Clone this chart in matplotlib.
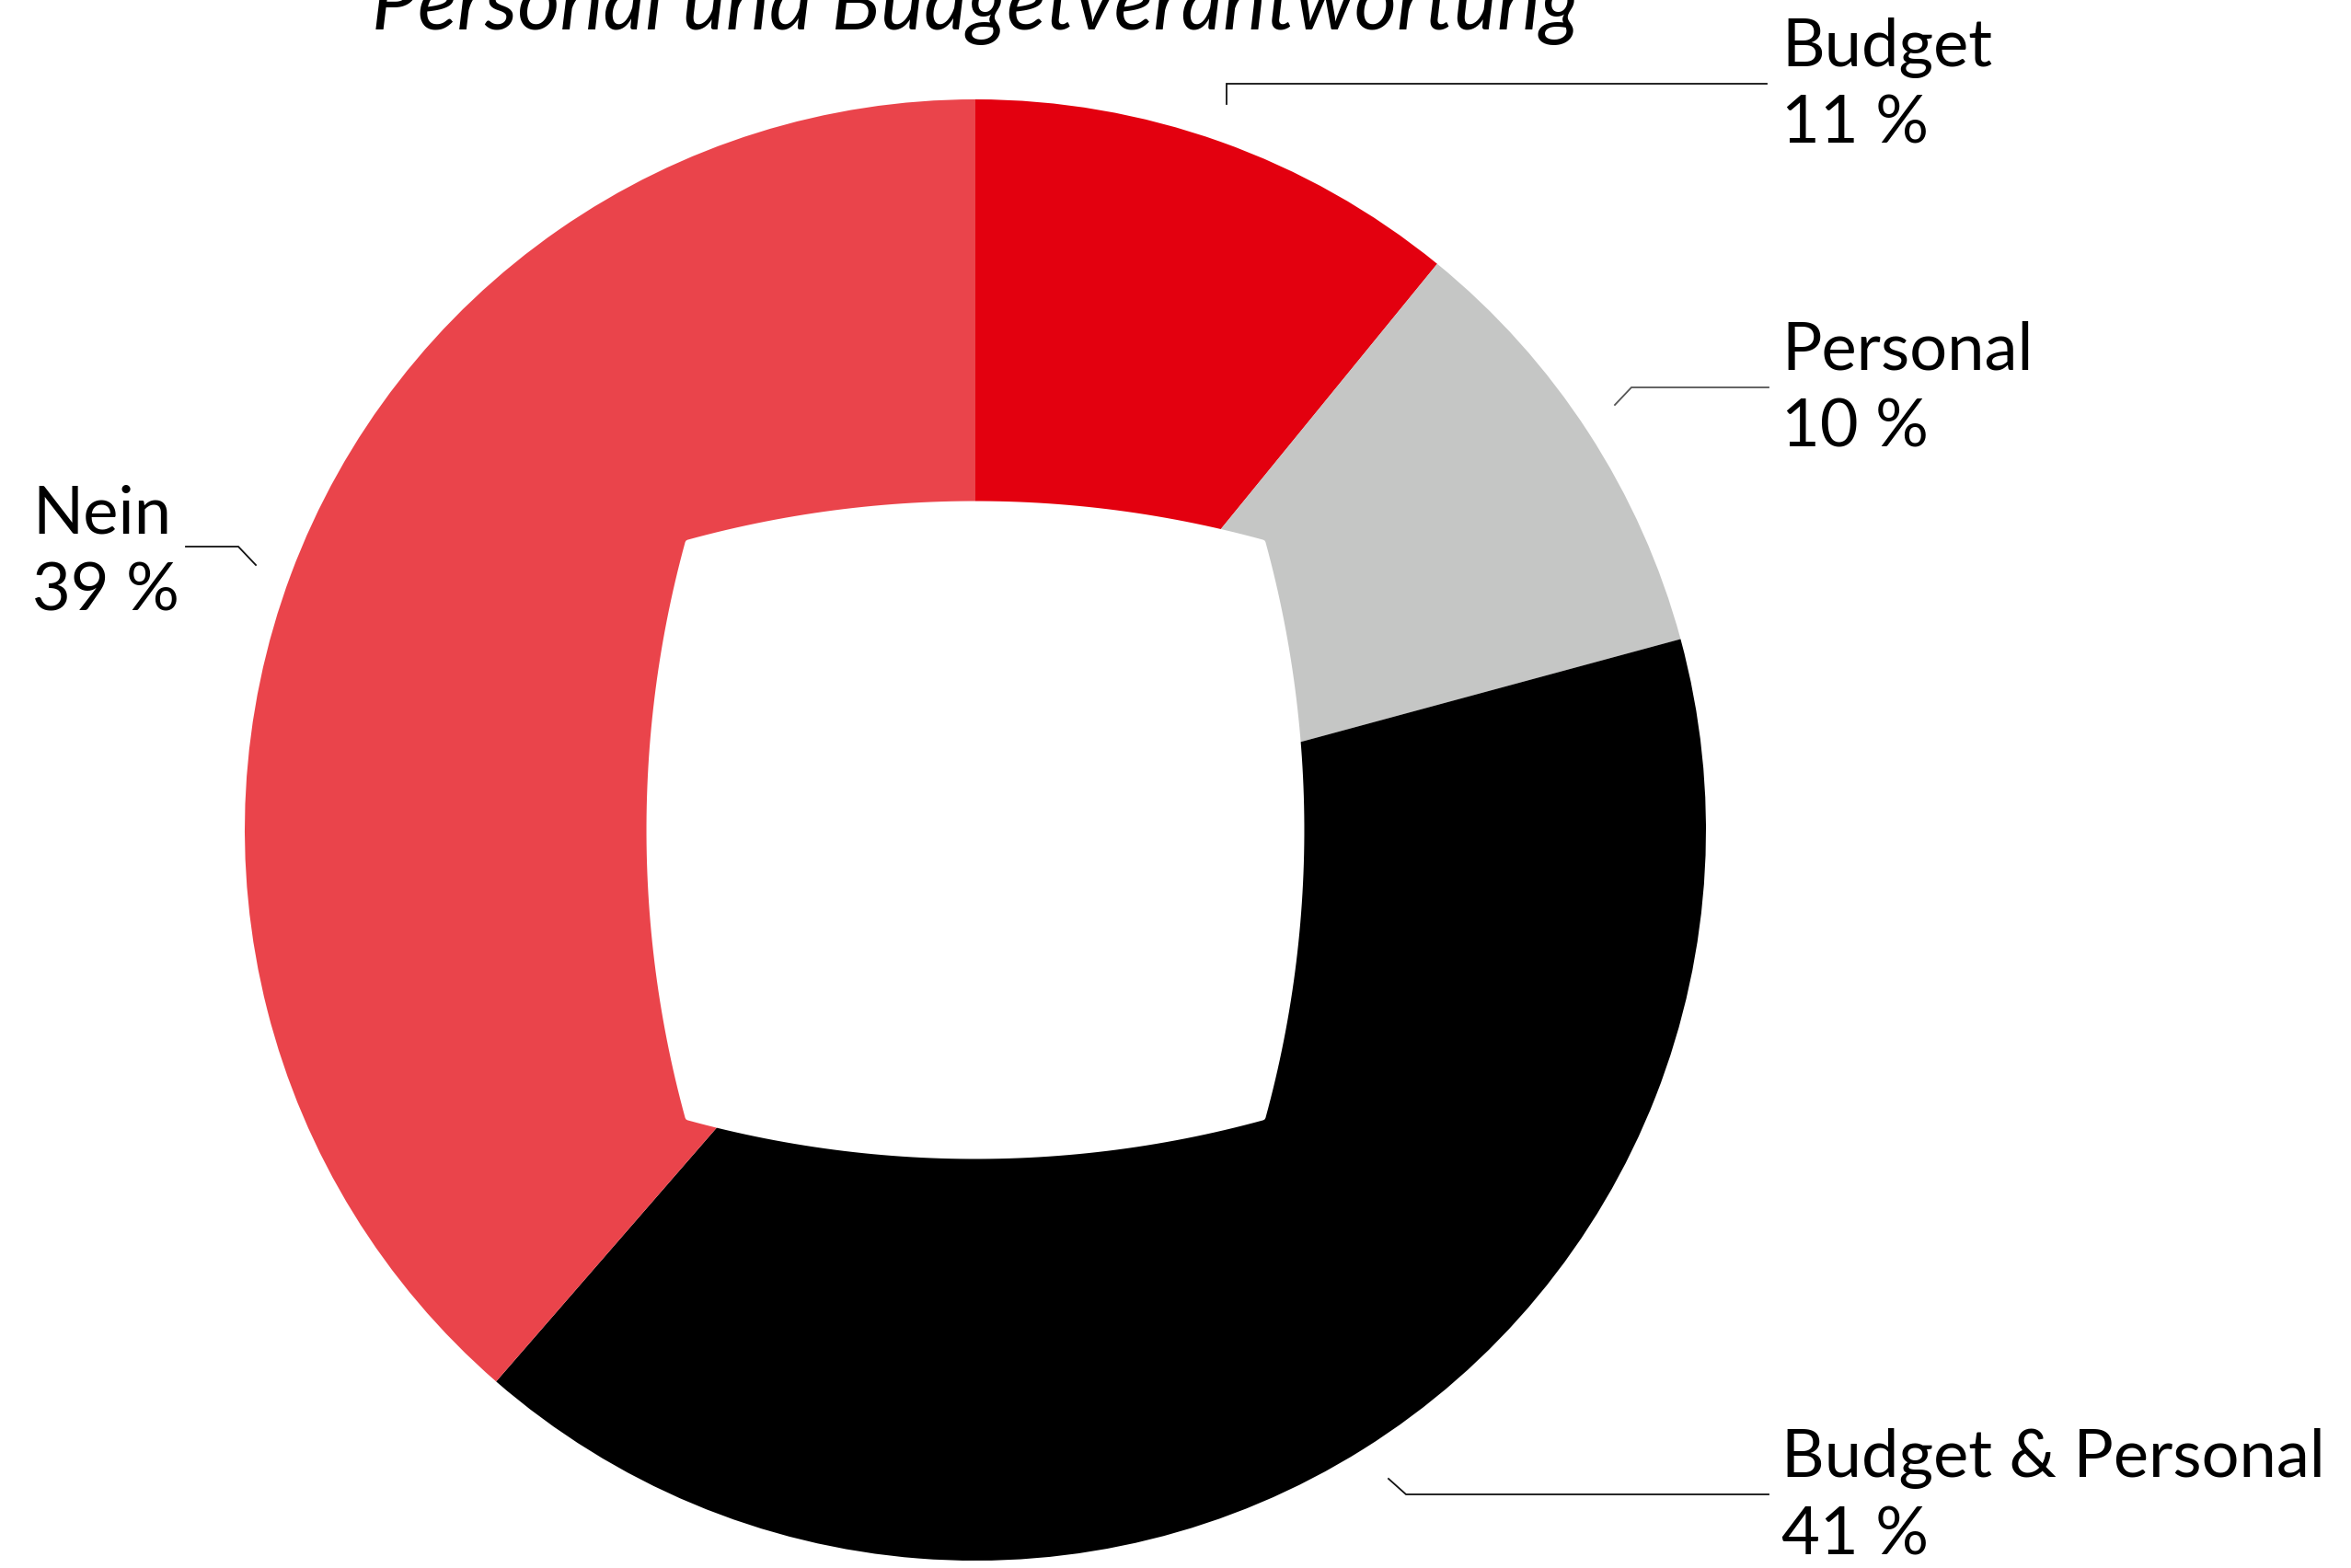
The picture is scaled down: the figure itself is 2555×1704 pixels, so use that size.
import numpy as np
import matplotlib
matplotlib.use("Agg")
import matplotlib.pyplot as plt
from matplotlib.patches import Polygon

W, H = 2555, 1704  # px, dpi 100

# data
labels = ["Budget", "Personal", "Budget & Personal", "Nein"]
shares = [11, 10, 41, 39]  # percent, clockwise from 12 o'clock
colors = ["#e3000f", "#c5c6c5", "#000000", "#ea444b"]
title = "Personal und Budgetverantwortung"

# layout (pixel coords, y from top)
cx, cy = 1060, 902
r_out = 794
hole_mid = 354     # distance centre -> middle of hole edge
hole_corner = 312  # distance centre -> hole corner (per axis)

# label text anchor (x left, baseline of first line) and leader polyline
label_pos = {
    "Budget": (1936, 72),
    "Personal": (1936, 402),
    "Budget & Personal": (1936, 1605),
    "Nein": (35, 579),
}
leaders = {
    "Budget": [(1920, 91), (1333, 91), (1333, 113)],
    "Personal": [(1922, 421), (1773, 421), (1755, 440)],
    "Budget & Personal": [(1922, 1624), (1528, 1624), (1509, 1607)],
    "Nein": [(202, 594), (259, 594), (278, 614)],
}
leader_col = {"Personal": "#555555"}

plt.rcParams['font.family'] = ['Lato', 'DejaVu Sans']

fig = plt.figure(figsize=(W / 100, H / 100), dpi=100)
ax = fig.add_axes([0, 0, 1, 1])

def fy(y):
    return H - y

ax.pie(shares, colors=colors, startangle=90, counterclock=False,
       radius=r_out, center=(cx, fy(cy)), frame=True,
       wedgeprops=dict(linewidth=0))
ax.set_xlim(0, W)
ax.set_ylim(0, H)
ax.set_aspect("equal")
ax.axis("off")

# hole: four circular arcs bulging outwards
s = hole_mid - hole_corner
R = (hole_corner ** 2 + s ** 2) / (2 * s)
t = np.linspace(-hole_corner, hole_corner, 60)
bulge = np.sqrt(R ** 2 - t ** 2) - (R - hole_mid)
pts = []
pts += list(zip(t, bulge))                 # top, left->right
pts += list(zip(bulge, -t))                # right, top->bottom
pts += list(zip(-t, -bulge))               # bottom, right->left
pts += list(zip(-bulge, t))                # left, bottom->top
pts = np.array(pts) + np.array([cx, fy(cy)])
ax.add_patch(Polygon(pts, closed=True, facecolor="white", edgecolor="white",
                     linewidth=5, joinstyle="round", zorder=3))

fs = 52
for lab, val in zip(labels, shares):
    x, y = label_pos[lab]
    ax.text(x, fy(y), lab, fontsize=fs, ha="left", va="baseline", color="black")
    ax.text(x, fy(y + 84), f"{val} %", fontsize=fs, ha="left", va="baseline",
            color="black")
    xs, ys = zip(*leaders[lab])
    ax.plot(xs, [fy(v) for v in ys], color=leader_col.get(lab, "#111111"),
            lw=1.3, solid_joinstyle="miter")

# title sits partly above the top edge, as in the original
ax.text(cx, fy(32), title, fontsize=64, style="italic", ha="center",
        va="baseline", color="black")

fig.savefig("out.png", dpi=100, facecolor="white")
